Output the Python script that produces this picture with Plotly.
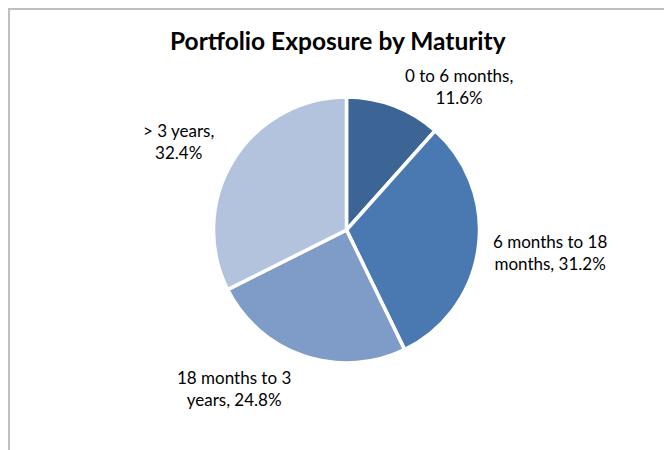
import plotly.graph_objects as go

categories = ["0 to 6 months", "6 months to 18 months", "18 months to 3 years", "> 3 years"]
values = [11.6, 31.2, 24.8, 32.4]
label_texts = ["0 to 6 months,<br>11.6%", "6 months to 18<br>months, 31.2%",
               "18 months to 3<br>years, 24.8%", "> 3 years,<br>32.4%"]
colors = ["#3C6595", "#4A78B0", "#7F9BC7", "#B4C3DD"]

# page body has an 8px margin; figure sized to fit the window
OFF = 8
W, H = 672 - OFF, 450 - OFF

# label centers in window pixels (layout)
label_pos = [(459, 86), (550, 252), (234, 388), (178, 141)]
cx, cy, r = 346.5 - OFF, 230 - OFF, 133


def px(x):
    return (x - OFF) / W


def py(y):
    return 1 - (y - OFF) / H


fig = go.Figure(go.Pie(
    labels=categories, values=values, sort=False, direction="clockwise", rotation=0,
    marker=dict(colors=colors, line=dict(color="white", width=3.5)),
    textinfo="none", hoverinfo="label+percent", showlegend=False,
    domain=dict(x=[(cx - r) / W, (cx + r) / W], y=[1 - (cy + r) / H, 1 - (cy - r) / H]),
))

for txt, (lx, ly) in zip(label_texts, label_pos):
    fig.add_annotation(x=px(lx), y=py(ly), xref="paper", yref="paper", text=txt,
                       showarrow=False, xanchor="center", yanchor="middle",
                       font=dict(family="Lato, Open Sans, sans-serif", size=17, color="#000000"))

fig.add_annotation(x=px(338), y=py(41), xref="paper", yref="paper",
                   text="<b>Portfolio Exposure by Maturity</b>", showarrow=False,
                   xanchor="center", yanchor="middle",
                   font=dict(family="Lato, Open Sans, sans-serif", size=24.5, color="#000000"))

# chart-area border: left and top edges only are visible
fig.add_shape(type="line", xref="paper", yref="paper", x0=px(9), x1=px(9), y0=0, y1=1,
              line=dict(color="#BFBFBF", width=2), layer="below")
fig.add_shape(type="line", xref="paper", yref="paper", x0=px(9), x1=1, y0=py(9), y1=py(9),
              line=dict(color="#BFBFBF", width=2), layer="below")

fig.update_layout(width=W, height=H, margin=dict(l=0, r=0, t=0, b=0),
                  paper_bgcolor="white", plot_bgcolor="white")

fig.write_html("out.html")
